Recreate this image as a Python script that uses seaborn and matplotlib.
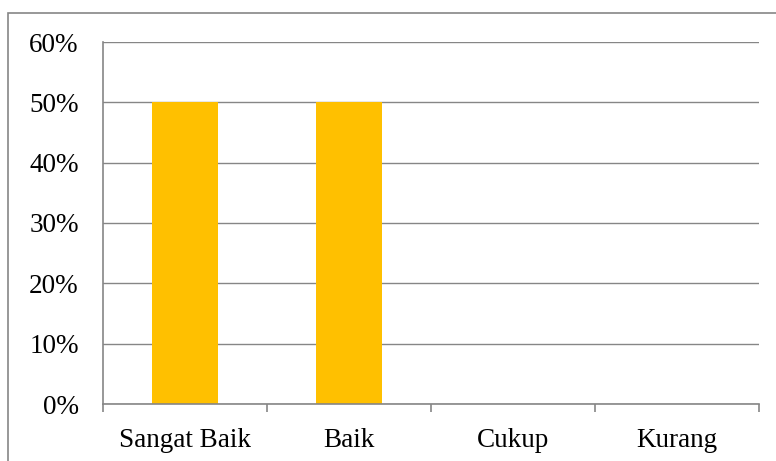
import matplotlib
matplotlib.use("Agg")
import matplotlib.pyplot as plt
import seaborn as sns
import pandas as pd
from matplotlib.patches import Rectangle
from matplotlib.ticker import FixedLocator, PercentFormatter

categories = ["Sangat Baik", "Baik", "Cukup", "Kurang"]
values = [0.50, 0.50, 0.0, 0.0]
y_ticks = [0.0, 0.1, 0.2, 0.3, 0.4, 0.5, 0.6]

sns.set_theme(style="white")
plt.rcParams['font.family'] = ['Liberation Serif', 'DejaVu Serif']

W, H = 776, 461
fig = plt.figure(figsize=(W / 100, H / 100), dpi=100)
ax = fig.add_axes([103 / W, 1 - 404 / H, (759 - 103) / W, (404 - 42) / H])

gray = "#868686"
df = pd.DataFrame({"cat": categories, "val": values})
sns.barplot(data=df, x="cat", y="val", color="#FFC000", saturation=1,
            width=0.4, ax=ax, zorder=3, linewidth=0, edgecolor="none")

ax.set_xlim(-0.5, len(categories) - 0.5)
ax.set_ylim(0, 0.6)
ax.set_yticks(y_ticks)
ax.yaxis.set_major_formatter(PercentFormatter(1.0, decimals=0))
ax.grid(axis="y", color=gray, linewidth=1.0, zorder=0)
ax.set_axisbelow(True)
ax.set_xlabel("")
ax.set_ylabel("")

ax.xaxis.set_minor_locator(FixedLocator([i - 0.5 for i in range(len(categories) + 1)]))
ax.tick_params(axis="x", which="major", length=0, pad=17, labelsize=19.5, colors="#000000")
ax.tick_params(axis="x", which="minor", length=6, width=1.2, color=gray, direction="out")
ax.tick_params(axis="y", which="major", length=6.5, width=1.2, color=gray, pad=11,
               labelsize=19.5, labelcolor="#000000", direction="out")
ax.tick_params(axis="x", bottom=True, which="both")

for s in ["top", "right"]:
    ax.spines[s].set_visible(False)
for s in ["left", "bottom"]:
    ax.spines[s].set_color(gray)
    ax.spines[s].set_linewidth(1.2)
    ax.spines[s].set_zorder(4)

fig.patches.append(Rectangle((8 / W, -0.1), 1.2, 1 - 13 / H + 0.1,
                             transform=fig.transFigure, fill=False,
                             edgecolor=gray, linewidth=1.2))

fig.savefig("out.png", dpi=100)
